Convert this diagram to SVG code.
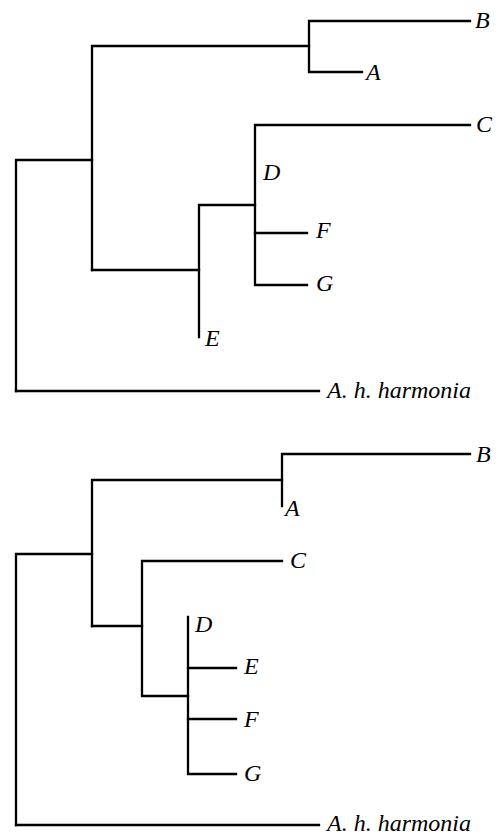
<svg xmlns="http://www.w3.org/2000/svg" width="499" height="835" viewBox="0 0 499 835">
  <style>
    .br { fill: none; stroke: #000; stroke-width: 2.3; stroke-linecap: square; stroke-linejoin: miter; }
    .lb { font-family: "Liberation Serif", "Times New Roman", serif; font-style: italic; font-size: 24px; fill: #000; }
  </style>
  <rect width="499" height="835" fill="#fff"/>

  <!-- Upper tree -->
  <g id="tree-upper-branches" class="br">
    <path d="M16,391 V160 H92"/>
    <path d="M92,270 V46 H309"/>
    <path d="M470,21 H309 V72 H362"/>
    <path d="M92,270 H199"/>
    <path d="M199,337 V205 H255"/>
    <path d="M470,125 H255 V285 H307"/>
    <path d="M255,233 H307"/>
    <path d="M16,391 H319"/>
  </g>
  <g id="u-B"><text class="lb" x="475" y="28">B</text></g>
  <g id="u-A"><text class="lb" x="366" y="80">A</text></g>
  <g id="u-C"><text class="lb" x="476" y="132">C</text></g>
  <g id="u-D"><text class="lb" x="263" y="180">D</text></g>
  <g id="u-F"><text class="lb" x="316" y="238">F</text></g>
  <g id="u-G"><text class="lb" x="316" y="291">G</text></g>
  <g id="u-E"><text class="lb" x="205" y="346">E</text></g>
  <g id="u-harmonia"><text class="lb" x="327" y="398">A. h. harmonia</text></g>

  <!-- Lower tree -->
  <g id="tree-lower-branches" class="br">
    <path d="M16,825 V554 H92"/>
    <path d="M92,626 V480 H282"/>
    <path d="M470,454 H282 V506"/>
    <path d="M92,626 H142"/>
    <path d="M282,561 H142 V696 H188"/>
    <path d="M188,617 V774 H236"/>
    <path d="M188,668 H236"/>
    <path d="M188,719 H236"/>
    <path d="M16,825 H319"/>
  </g>
  <g id="l-B"><text class="lb" x="476" y="462">B</text></g>
  <g id="l-A"><text class="lb" x="285" y="516">A</text></g>
  <g id="l-C"><text class="lb" x="290" y="568">C</text></g>
  <g id="l-D"><text class="lb" x="195" y="632">D</text></g>
  <g id="l-E"><text class="lb" x="244" y="674">E</text></g>
  <g id="l-F"><text class="lb" x="244" y="727">F</text></g>
  <g id="l-G"><text class="lb" x="244" y="781">G</text></g>
  <g id="l-harmonia"><text class="lb" x="327" y="831">A. h. harmonia</text></g>
</svg>
